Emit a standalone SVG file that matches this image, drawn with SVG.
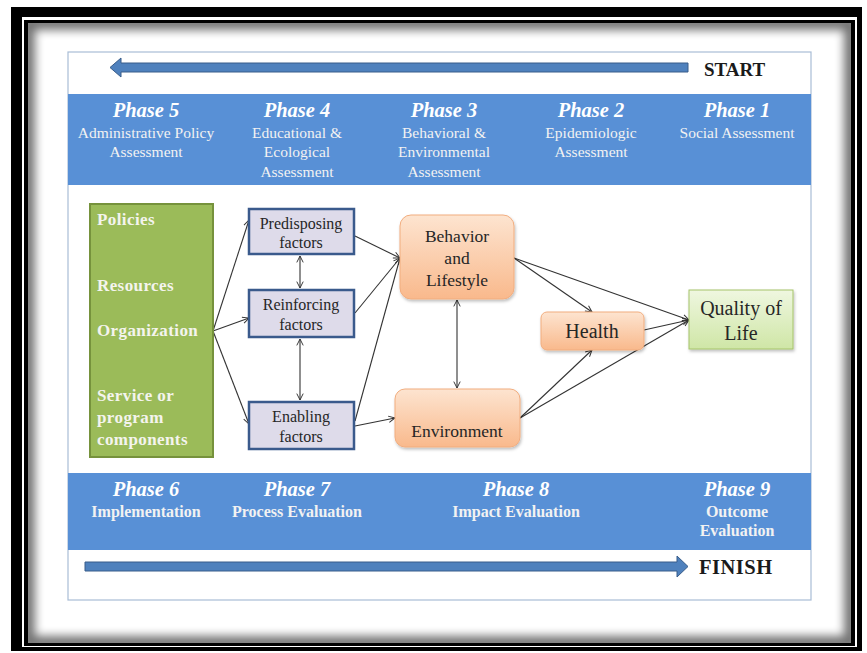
<svg xmlns="http://www.w3.org/2000/svg" width="867" height="653" viewBox="0 0 867 653">
<defs>
<style>
text{font-family:"Liberation Serif","Times New Roman","DejaVu Serif",serif;}
.ph{font-weight:bold;font-style:italic;font-size:20.5px;fill:#ffffff;text-anchor:middle;}
.sub{font-size:15.5px;fill:#f2f2f2;text-anchor:middle;}
.subb{font-weight:bold;font-size:16px;fill:#f2f2f2;text-anchor:middle;}
.grn{font-weight:bold;font-size:17px;fill:#f4f4ee;letter-spacing:0.4px;}
.nt{font-size:16px;fill:#262626;text-anchor:middle;}
.ot{font-size:17.5px;fill:#262626;text-anchor:middle;}
.big{font-size:20px;fill:#262626;text-anchor:middle;}
.band{fill:#5890d6;}
.fac{fill:#dedbea;stroke:#3a5a8c;stroke-width:2.5;}
.org{fill:url(#og);stroke:#f1ad7f;stroke-width:1;}
.con{stroke:#333333;stroke-width:1.1;fill:none;marker-end:url(#ah);}
.dbl{stroke:#333333;stroke-width:1.1;fill:none;marker-end:url(#ah);marker-start:url(#ahs);}
.barrow{fill:#4f81bd;stroke:#385d8a;stroke-width:1;}
.lbl{font-weight:bold;font-size:19px;fill:#1a1a1a;}
</style>
<linearGradient id="og" x1="0" y1="0" x2="0" y2="1">
<stop offset="0" stop-color="#fde4d0"/>
<stop offset="1" stop-color="#f9b98c"/>
</linearGradient>
<linearGradient id="qg" x1="0" y1="0" x2="0" y2="1">
<stop offset="0" stop-color="#eff7e0"/>
<stop offset="1" stop-color="#cfe6a6"/>
</linearGradient>
<marker id="ah" viewBox="0 0 10 10" refX="9" refY="5" markerWidth="8" markerHeight="8" orient="auto" markerUnits="userSpaceOnUse">
<path d="M1,1 L9,5 L1,9" fill="none" stroke="#333333" stroke-width="1.2"/>
</marker>
<marker id="ahs" viewBox="0 0 10 10" refX="1" refY="5" markerWidth="8" markerHeight="8" orient="auto" markerUnits="userSpaceOnUse">
<path d="M9,1 L1,5 L9,9" fill="none" stroke="#333333" stroke-width="1.2"/>
</marker>
<clipPath id="inner"><rect x="28" y="23" width="823" height="620"/></clipPath>
<filter id="blur" x="-10%" y="-10%" width="120%" height="120%"><feGaussianBlur stdDeviation="5"/></filter>
<filter id="sh" x="-20%" y="-20%" width="140%" height="140%"><feDropShadow dx="1" dy="2" stdDeviation="1.5" flood-color="#000" flood-opacity="0.25"/></filter>
</defs>

<g id="frame">
<rect x="0" y="0" width="867" height="653" fill="#ffffff"/>
<rect x="11" y="7" width="851" height="644" fill="#000000"/>
<rect x="22" y="17" width="835" height="630" fill="#ffffff"/>
<rect x="24" y="20" width="831" height="626" fill="#000000"/>
<rect x="28" y="23" width="823" height="620" fill="#ffffff"/>
<g clip-path="url(#inner)">
<rect x="28" y="23" width="823" height="620" fill="none" stroke="#000000" stroke-width="14" opacity="0.55" filter="url(#blur)"/>
</g>
</g>

<g id="panel">
<rect x="68" y="52" width="743" height="548" fill="#ffffff" stroke="#a9bdd6" stroke-width="1.2"/>
<rect class="band" x="68" y="94" width="743" height="91"/>
<rect class="band" x="68" y="473" width="743" height="77"/>
</g>

<g id="start">
<path class="barrow" d="M688,63 L121,63 L121,58 L110,67.5 L121,77 L121,72 L688,72 Z"/>
<text class="lbl" x="704" y="76">START</text>
</g>

<g id="finish">
<path class="barrow" d="M85,562 L677,562 L677,556 L688,566.5 L677,577 L677,571 L85,571 Z"/>
<text class="lbl" x="699" y="574" style="font-size:20.5px;letter-spacing:0.5px">FINISH</text>
</g>

<g id="phase5">
<text class="ph" x="146" y="117">Phase 5</text>
<text class="sub" x="146" y="138">Administrative Policy</text>
<text class="sub" x="146" y="157">Assessment</text>
</g>
<g id="phase4">
<text class="ph" x="297" y="117">Phase 4</text>
<text class="sub" x="297" y="138">Educational &amp;</text>
<text class="sub" x="297" y="157">Ecological</text>
<text class="sub" x="297" y="177">Assessment</text>
</g>
<g id="phase3">
<text class="ph" x="444" y="117">Phase 3</text>
<text class="sub" x="444" y="138">Behavioral &amp;</text>
<text class="sub" x="444" y="157">Environmental</text>
<text class="sub" x="444" y="177">Assessment</text>
</g>
<g id="phase2">
<text class="ph" x="591" y="117">Phase 2</text>
<text class="sub" x="591" y="138">Epidemiologic</text>
<text class="sub" x="591" y="157">Assessment</text>
</g>
<g id="phase1">
<text class="ph" x="737" y="117">Phase 1</text>
<text class="sub" x="737" y="138">Social Assessment</text>
</g>

<g id="phase6">
<text class="ph" x="146" y="496">Phase 6</text>
<text class="subb" x="146" y="517">Implementation</text>
</g>
<g id="phase7">
<text class="ph" x="297" y="496">Phase 7</text>
<text class="subb" x="297" y="517">Process Evaluation</text>
</g>
<g id="phase8">
<text class="ph" x="516" y="496">Phase 8</text>
<text class="subb" x="516" y="517">Impact Evaluation</text>
</g>
<g id="phase9">
<text class="ph" x="737" y="496">Phase 9</text>
<text class="subb" x="737" y="517">Outcome</text>
<text class="subb" x="737" y="536">Evaluation</text>
</g>

<g id="connectors">
<line class="con" x1="213" y1="331" x2="249" y2="220"/>
<line class="con" x1="213" y1="331" x2="249" y2="318"/>
<line class="con" x1="213" y1="331" x2="249" y2="424"/>
<line class="dbl" x1="300" y1="256" x2="300" y2="288"/>
<line class="dbl" x1="300" y1="339" x2="300" y2="400"/>
<line class="con" x1="355" y1="236" x2="400" y2="258"/>
<line class="con" x1="355" y1="313" x2="400" y2="258"/>
<line class="con" x1="355" y1="421" x2="400" y2="258"/>
<line class="con" x1="355" y1="426" x2="395" y2="418"/>
<line class="dbl" x1="457" y1="300" x2="457" y2="388"/>
<line class="con" x1="514" y1="258" x2="592" y2="312"/>
<line class="con" x1="514" y1="258" x2="689" y2="320"/>
<line class="con" x1="644" y1="330" x2="689" y2="320"/>
<line class="con" x1="520" y1="418" x2="592" y2="350"/>
<line class="con" x1="520" y1="418" x2="689" y2="320"/>
</g>

<g id="admin">
<rect x="90" y="204" width="123" height="253" fill="#9bbb59" stroke="#76923c" stroke-width="2"/>
<text class="grn" x="97" y="225">Policies</text>
<text class="grn" x="97" y="291">Resources</text>
<text class="grn" x="97" y="336">Organization</text>
<text class="grn" x="97" y="401">Service or</text>
<text class="grn" x="97" y="423">program</text>
<text class="grn" x="97" y="445">components</text>
</g>

<g id="predisposing">
<rect class="fac" x="249" y="209" width="105" height="45"/>
<text class="nt" x="301" y="229">Predisposing</text>
<text class="nt" x="301" y="248">factors</text>
</g>
<g id="reinforcing">
<rect class="fac" x="249" y="290" width="105" height="47"/>
<text class="nt" x="301" y="310">Reinforcing</text>
<text class="nt" x="301" y="330">factors</text>
</g>
<g id="enabling">
<rect class="fac" x="249" y="402" width="105" height="47"/>
<text class="nt" x="301" y="422">Enabling</text>
<text class="nt" x="301" y="442">factors</text>
</g>

<g id="behavior">
<rect class="org" x="400" y="215" width="114" height="84" rx="11" filter="url(#sh)"/>
<text class="ot" x="457" y="242">Behavior</text>
<text class="ot" x="457" y="264">and</text>
<text class="ot" x="457" y="286">Lifestyle</text>
</g>
<g id="environment">
<rect class="org" x="395" y="389" width="125" height="58" rx="10" filter="url(#sh)"/>
<text class="ot" x="457" y="437">Environment</text>
</g>
<g id="health">
<rect class="org" x="541" y="312" width="103" height="38" rx="6" filter="url(#sh)"/>
<text class="big" x="592" y="338">Health</text>
</g>
<g id="quality">
<rect x="689" y="290" width="104" height="59" fill="url(#qg)" stroke="#a6c46a" stroke-width="1" filter="url(#sh)"/>
<text class="big" x="741" y="315">Quality of</text>
<text class="big" x="741" y="340">Life</text>
</g>
</svg>
